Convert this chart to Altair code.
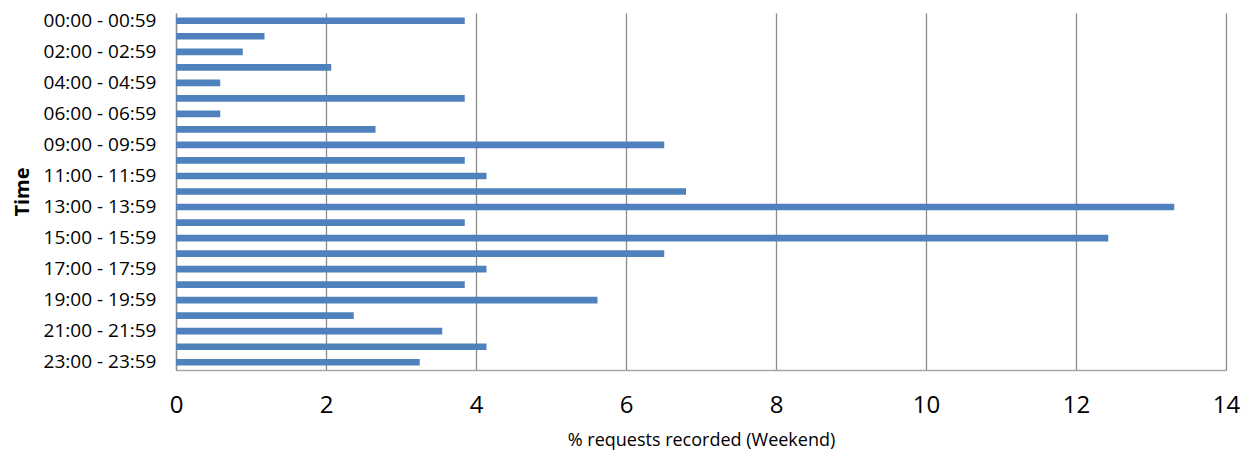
import altair as alt
import pandas as pd

hours = [
    "00:00 - 00:59", "01:00 - 01:59", "02:00 - 02:59", "03:00 - 03:59",
    "04:00 - 04:59", "05:00 - 05:59", "06:00 - 06:59", "08:00 - 08:59",
    "09:00 - 09:59", "10:00 - 10:59", "11:00 - 11:59", "12:00 - 12:59",
    "13:00 - 13:59", "14:00 - 14:59", "15:00 - 15:59", "16:00 - 16:59",
    "17:00 - 17:59", "18:00 - 18:59", "19:00 - 19:59", "20:00 - 20:59",
    "21:00 - 21:59", "22:00 - 22:59", "23:00 - 23:59",
]
percent = [
    3.85, 1.18, 0.89, 2.07, 0.59, 3.85, 0.59, 2.66,
    6.51, 3.85, 4.14, 6.80, 13.31, 3.85, 12.43, 6.51,
    4.14, 3.85, 5.62, 2.37, 3.55, 4.14, 3.25,
]
shown_labels = [
    "00:00 - 00:59", "02:00 - 02:59", "04:00 - 04:59", "06:00 - 06:59",
    "09:00 - 09:59", "11:00 - 11:59", "13:00 - 13:59", "15:00 - 15:59",
    "17:00 - 17:59", "19:00 - 19:59", "21:00 - 21:59", "23:00 - 23:59",
]
x_ticks = [0, 2, 4, 6, 8, 10, 12, 14]

df = pd.DataFrame({"Time": hours, "Percent": percent})

FONT = "Open Sans"

chart = (
    alt.Chart(df)
    .mark_bar(color="#4F81BD")
    .encode(
        x=alt.X(
            "Percent:Q",
            scale=alt.Scale(domain=[0, 14], nice=False, zero=True),
            axis=alt.Axis(
                values=x_ticks,
                title="% requests recorded (Weekend)",
                grid=True,
                gridColor="#8c8c8c",
                gridWidth=1.3,
                domainColor="#a6a6a6",
                domainWidth=1.3,
                ticks=False,
                labelFlush=False,
                labelFont=FONT,
                labelFontSize=24,
                labelColor="#000000",
                labelPadding=23,
                titleFont=FONT,
                titleFontSize=18,
                titleFontWeight="normal",
                titleColor="#000000",
                titlePadding=14,
            ),
        ),
        y=alt.Y(
            "Time:N",
            sort=hours,
            scale=alt.Scale(paddingInner=0.57, paddingOuter=0.285),
            axis=alt.Axis(
                values=shown_labels,
                title="Time",
                grid=False,
                ticks=False,
                domainColor="#8c8c8c",
                domainWidth=1.3,
                labelFont=FONT,
                labelFontSize=19,
                labelColor="#000000",
                labelPadding=20,
                titleFont=FONT,
                titleFontSize=20,
                titleFontWeight="bold",
                titleColor="#000000",
                titlePadding=11,
            ),
        ),
    )
    .properties(
        width=1050,
        height=357,
        autosize=alt.AutoSizeParams(type="none"),
        padding={"left": 168, "top": 5, "right": 17, "bottom": 87},
    )
    .configure_view(stroke=None)
)

chart.save("out.html", embed_options={"renderer": "svg", "actions": False})
